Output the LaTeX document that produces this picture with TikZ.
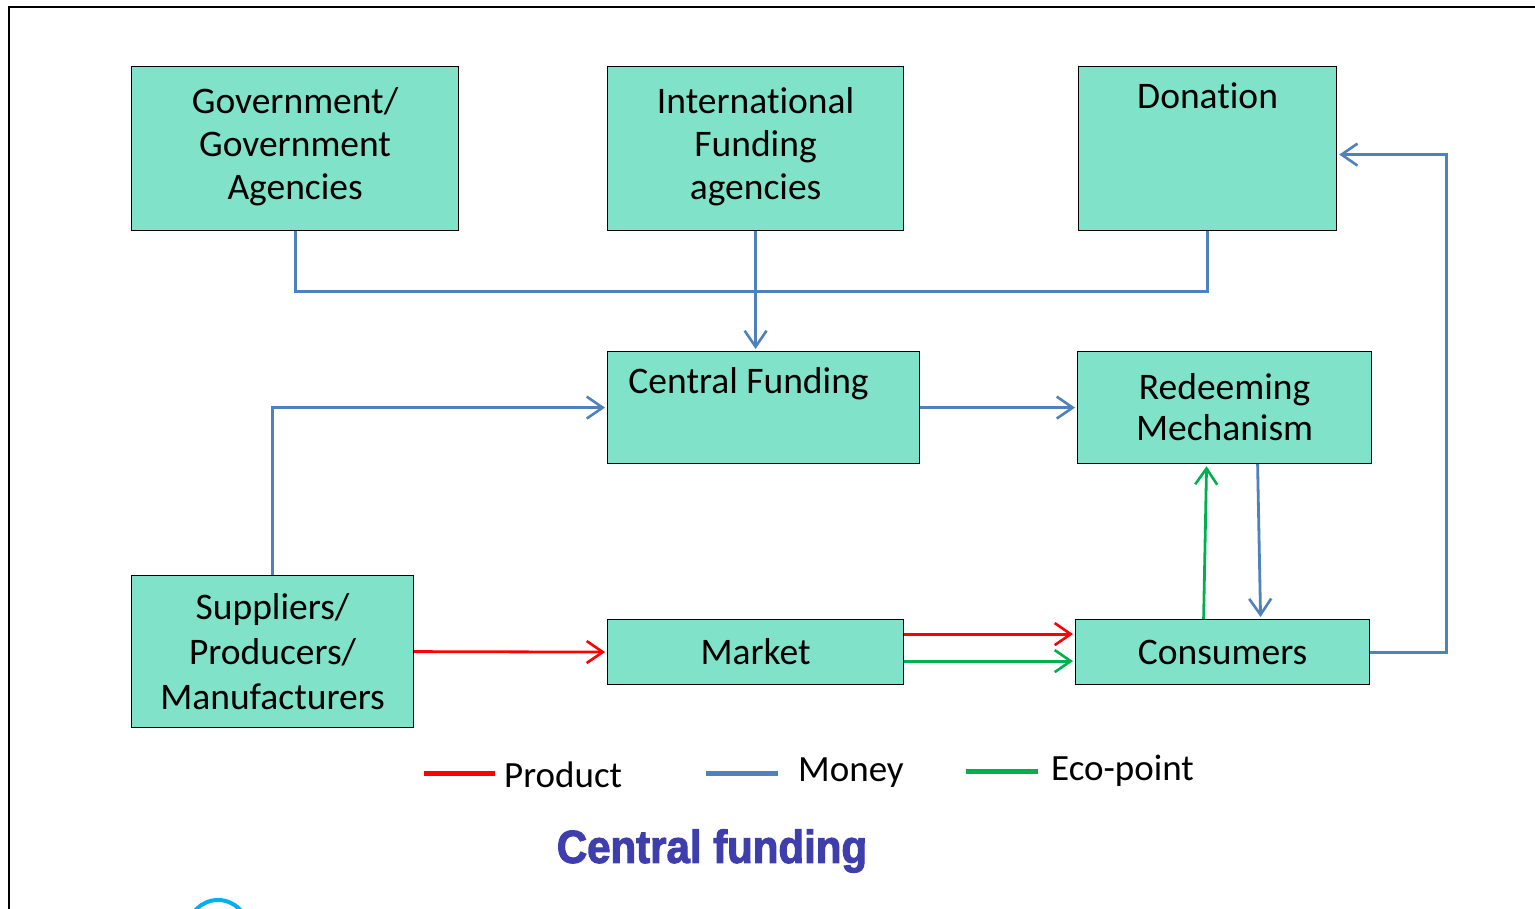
\documentclass[tikz,border=0pt]{standalone}
\usepackage{fontspec}
\setmainfont{Carlito}[Ligatures=NoCommon]
\newfontfamily\titlefont{Liberation Sans}[BoldFeatures={FakeBold=2.5}]
\usetikzlibrary{arrows.meta}

\definecolor{boxfill}{RGB}{128,226,200}
\definecolor{moneyblue}{RGB}{79,129,189}
\definecolor{ecogreen}{RGB}{0,176,80}
\definecolor{titleblue}{RGB}{62,62,172}
\definecolor{arccyan}{RGB}{0,176,240}

\tikzset{
  boxfont/.style={font=\fontsize{37.5}{#1}\selectfont},
  boxfont/.default=44,
  box/.style={draw=black, line width=1.2pt, fill=boxfill, inner sep=0pt, anchor=north west,
    align=center, boxfont},
  toptext/.style={label={[anchor=north, yshift=-13pt, boxfont]north:#1}},
  flow/.style={-{Straight Barb[length=16pt,width=22pt,line width=2.6pt]}, shorten >=2pt},
  money/.style={draw=moneyblue, line width=2.8pt},
  product/.style={draw=red, line width=2.8pt},
  eco/.style={draw=ecogreen, line width=2.8pt},
  key/.style={line width=5pt},
  legendtext/.style={anchor=west, inner sep=0pt, font=\fontsize{37}{40}\selectfont}
}

\begin{document}
\begin{tikzpicture}[x=1pt,y=-1pt]
  \useasboundingbox (0,0) rectangle (1535,909);
  \draw[line width=2pt] (9,909) -- (9,7) -- (1535,7);

  % boxes
  \node[box, boxfont=43, minimum width=327pt, minimum height=164pt, text depth=10pt] (gov) at (131,66)
    {Government/\\Government\\Agencies};
  \node[box, boxfont=43, minimum width=296pt, minimum height=164pt, text depth=10pt] (intl) at (607,66)
    {International\\Funding\\agencies};
  \node[box, minimum width=258pt, minimum height=164pt, toptext=Donation] (don) at (1078,66) {};
  \node[box, minimum width=312pt, minimum height=112pt,
    label={[anchor=north, xshift=-15pt, yshift=-13pt, boxfont]north:Central Funding}]
    (cfund) at (607,351) {};
  \node[box, boxfont=41, minimum width=294pt, minimum height=112pt] (redeem) at (1077,351)
    {Redeeming\\Mechanism};
  \node[box, boxfont=45, minimum width=282pt, minimum height=152pt] (supp) at (131,575)
    {Suppliers/\\Producers/\\Manufacturers};
  \node[box, minimum width=296pt, minimum height=65pt] (market) at (607,619) {Market};
  \node[box, minimum width=294pt, minimum height=65pt] (cons) at (1075,619) {Consumers};

  % money flows
  \draw[money] (gov.south) -- ++(0,60) -| (don.south);
  \draw[money, flow] (intl.south) -- (intl.south |- cfund.north);
  \draw[money, flow] (supp.north) |- (cfund.west);
  \draw[money, flow] (cfund.east) -- (redeem.west);
  \draw[money, flow] ([xshift=33pt]redeem.south) -- ([xshift=38pt]cons.north);
  \draw[money, flow] (cons.east) -- ++(76,0) |- ([yshift=-6pt]don.east);

  % product and eco-point flows
  \draw[product, flow] (supp.east) -- (market.west);
  \draw[product, flow] ([yshift=18pt]market.east) -- ([yshift=18pt]cons.west);
  \draw[eco, flow] ([yshift=-9pt]market.east) -- ([yshift=-9pt]cons.west);
  \draw[eco, flow] ([xshift=-19pt]cons.north) -- ([xshift=-18pt]redeem.south);

  % legend
  \node[legendtext] (lprod) at (504,775) {Product};
  \node[legendtext] (lmoney) at (798,773) {Money};
  \node[legendtext] (leco) at (1051,771) {Eco-point};
  \draw[product, key] ([xshift=-9pt,yshift=2pt]lprod.west) -- ++(-71,0);
  \draw[money, key] ([xshift=-20pt]lmoney.west) -- ++(-72,0);
  \draw[eco, key] ([xshift=-13pt]leco.west) -- ++(-72,0);

  \node[font=\titlefont\bfseries\fontsize{42}{42}\selectfont, text=titleblue, inner sep=0pt,
    yscale=1.1] (title) at (712,851) {Central funding};

  \begin{scope}
    \clip (0,0) rectangle (1535,909);
    \draw[arccyan, line width=4pt] (218,930) circle (30);
  \end{scope}
\end{tikzpicture}
\end{document}
